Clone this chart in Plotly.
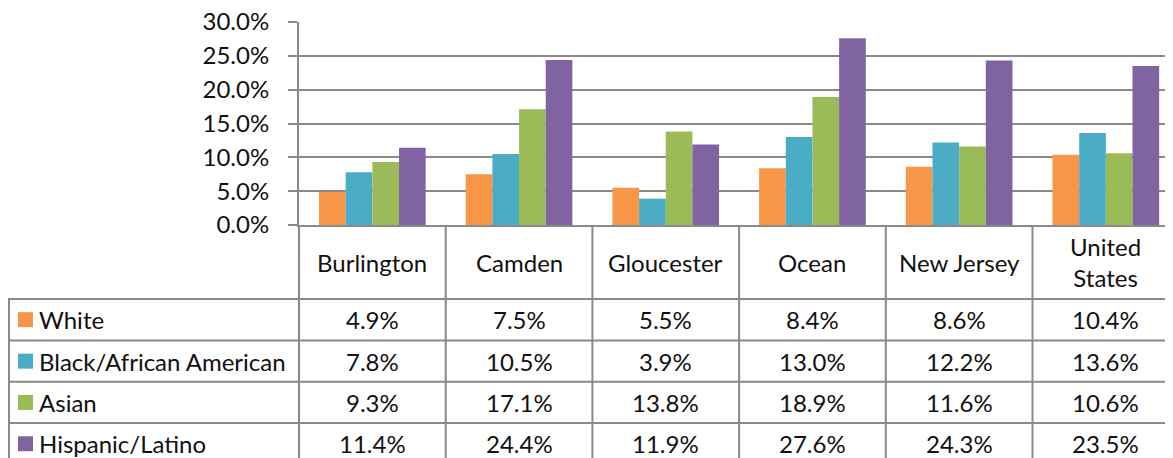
import plotly.graph_objects as go

categories = ["Burlington", "Camden", "Gloucester", "Ocean", "New Jersey", "United States"]
category_labels = ["Burlington", "Camden", "Gloucester", "Ocean", "New Jersey", "United<br>States"]
series_names = ["White", "Black/African American", "Asian", "Hispanic/Latino"]
white = [0.049, 0.075, 0.055, 0.084, 0.086, 0.104]
black = [0.078, 0.105, 0.039, 0.130, 0.122, 0.136]
asian = [0.093, 0.171, 0.138, 0.189, 0.116, 0.106]
hispanic = [0.114, 0.244, 0.119, 0.276, 0.243, 0.235]
series_values = [white, black, asian, hispanic]
colors = ["#F79646", "#4BACC6", "#9BBB59", "#8064A2"]

# page body has an 8px margin; the figure is sized to fill the rest of the window
OFF = 8
W, H = 1173 - OFF, 458 - OFF
FONT = "Lato"
FS = 24
LINE = "#8a8a8a"
TXT = "#111111"


def px(x):
    return (x - OFF) / W


def py(y):
    return 1 - (y - OFF) / H


fig = go.Figure()
idx = list(range(len(categories)))
for name, vals, col in zip(series_names, series_values, colors):
    fig.add_trace(go.Bar(x=idx, y=vals, name=name, marker_color=col,
                         marker_line_width=0, showlegend=False))

axis_left = 299
plot_top, plot_bottom = 22, 225
cat_w = 146.7
x_max = -0.5 + (1173 - axis_left) / cat_w

fig.update_layout(
    width=W, height=H, autosize=False,
    margin=dict(l=0, r=0, t=0, b=0, pad=0),
    paper_bgcolor="white", plot_bgcolor="white",
    barmode="group", bargap=0.273, bargroupgap=0,
    font=dict(family=FONT, size=FS, color=TXT),
    xaxis=dict(domain=[px(axis_left), 1], range=[-0.5, x_max], automargin=False,
               showticklabels=False, showgrid=False, zeroline=False,
               showline=True, linecolor=LINE, linewidth=2, ticks=""),
    yaxis=dict(domain=[py(plot_bottom), py(plot_top)], range=[0, 0.30], automargin=False,
               dtick=0.05, tickformat=".1%", showgrid=True,
               gridcolor=LINE, gridwidth=2, zeroline=False,
               showline=True, linecolor=LINE, linewidth=2,
               ticks="outside", ticklen=9, tickwidth=2, tickcolor=LINE,
               ticklabelstandoff=14, ticklabeloverflow="allow",
               tickfont=dict(family=FONT, size=FS, color=TXT)),
)

shapes = []
annotations = []
row_tops = [299, 340.5, 381.8, 423.1]
row_h = 41.3
table_bottom = 470

for b in range(len(categories)):
    shapes.append(dict(type="line", xref="x", yref="paper",
                       x0=b + 0.5, x1=b + 0.5, y0=py(plot_bottom), y1=py(table_bottom),
                       line=dict(color=LINE, width=2)))
shapes.append(dict(type="line", xref="paper", yref="paper",
                   x0=px(axis_left), x1=px(axis_left), y0=py(plot_bottom), y1=py(table_bottom),
                   line=dict(color=LINE, width=2)))
shapes.append(dict(type="line", xref="paper", yref="paper",
                   x0=px(9), x1=px(9), y0=py(row_tops[0]), y1=py(table_bottom),
                   line=dict(color=LINE, width=2)))
for rt in row_tops:
    shapes.append(dict(type="line", xref="paper", yref="paper",
                       x0=px(8), x1=1.01, y0=py(rt), y1=py(rt),
                       line=dict(color=LINE, width=2)))

for i, lab in enumerate(category_labels):
    annotations.append(dict(xref="x", yref="paper", x=i, y=py(262), text=lab,
                            showarrow=False, xanchor="center", yanchor="middle",
                            font=dict(family=FONT, size=FS, color=TXT)))

for r, (name, vals, col) in enumerate(zip(series_names, series_values, colors)):
    yc = row_tops[r] + row_h / 2
    shapes.append(dict(type="rect", xref="paper", yref="paper",
                       x0=px(18), x1=px(33), y0=py(yc - 7.5), y1=py(yc + 7.5),
                       fillcolor=col, line=dict(width=0)))
    annotations.append(dict(xref="paper", yref="paper", x=px(37), y=py(yc), text=name,
                            showarrow=False, xanchor="left", yanchor="middle",
                            font=dict(family=FONT, size=FS, color=TXT)))
    for i, v in enumerate(vals):
        annotations.append(dict(xref="x", yref="paper", x=i, y=py(yc),
                                text=f"{v*100:.1f}%", showarrow=False,
                                xanchor="center", yanchor="middle",
                                font=dict(family=FONT, size=FS, color=TXT)))

fig.update_layout(shapes=shapes, annotations=annotations)
fig.write_html("out.html")
